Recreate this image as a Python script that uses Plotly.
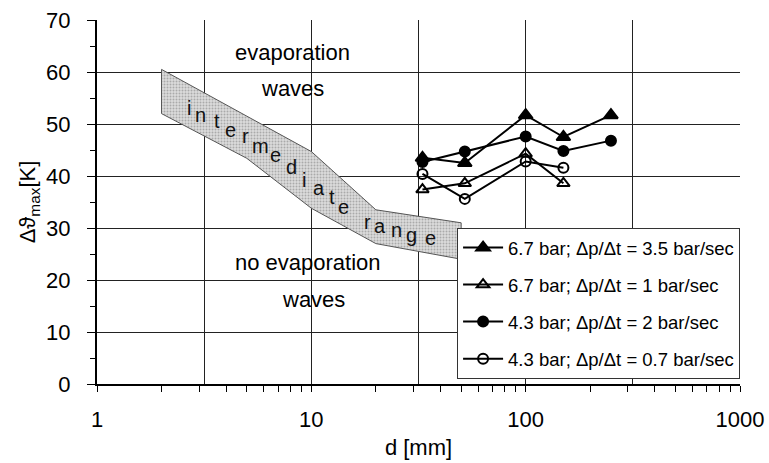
import numpy as np
import plotly.graph_objects as go

# ---------------- data ----------------
d_a = [33, 52, 100, 150, 250]          # pipe diameters [mm], series with 5 points
d_b = [33, 52, 100, 150]               # series with 4 points

y_67_35 = [43.5, 42.5, 51.7, 47.5, 51.7]   # 6.7 bar; 3.5 bar/sec (filled triangle)
y_67_1 = [37.4, 38.6, 44.3, 38.6]          # 6.7 bar; 1 bar/sec (open triangle)
y_43_2 = [42.7, 44.7, 47.6, 44.8, 46.8]    # 4.3 bar; 2 bar/sec (filled circle)
y_43_07 = [40.4, 35.6, 42.8, 41.6]         # 4.3 bar; 0.7 bar/sec (open circle)

names = ["6.7 bar; \u0394p/\u0394t = 3.5 bar/sec",
         "6.7 bar; \u0394p/\u0394t = 1 bar/sec",
         "4.3 bar; \u0394p/\u0394t = 2 bar/sec",
         "4.3 bar; \u0394p/\u0394t = 0.7 bar/sec"]

# intermediate range band (upper and lower boundaries)
band_top_x = [2, 10, 20, 50]
band_top_y = [60.5, 44.7, 33.5, 31.0]
band_bot_x = [2, 5, 10, 20, 50]
band_bot_y = [52.0, 43.4, 33.8, 27.0, 24.0]

band_word = "intermediaterange"
band_letter_x = [2.70, 3.03, 3.63, 4.18, 4.91, 5.77, 6.78, 8.11, 9.29, 10.8, 12.5, 14.1,
                 18.2, 20.9, 25.0, 29.4, 35.8]
band_letter_y = [53.0, 51.7, 50.6, 48.8, 47.6, 45.8, 44.0, 41.8, 39.2, 37.6, 36.0, 34.1,
                 31.2, 30.4, 29.6, 28.7, 28.0]

region_text = ["evaporation", "waves", "no evaporation", "waves"]
region_x = [8.2, 8.2, 9.66, 10.2]
region_y = [63.8, 56.9, 23.4, 16.3]

x_ticks_major = [m * 10 ** k for k in range(3) for m in range(1, 10)] + [1000]
x_ticktext = [str(v) if v in (1, 10, 100, 1000) else "" for v in x_ticks_major]
x_grid = [10 ** 0.5, 10, 10 ** 1.5, 100, 10 ** 2.5]
y_ticks = [0, 10, 20, 30, 40, 50, 60, 70]

FONT = "Liberation Sans, Arial, sans-serif"

fig = go.Figure()

# band
bx = band_top_x + band_bot_x[::-1] + [band_top_x[0]]
by = band_top_y + band_bot_y[::-1] + [band_top_y[0]]
fig.add_trace(go.Scatter(
    x=bx, y=by, mode="lines", fill="toself",
    fillcolor="#d6d6d6",
    fillpattern=dict(shape=".", bgcolor="#dcdcdc", fgcolor="#777777", size=3, solidity=0.35),
    line=dict(color="#555555", width=1), showlegend=False, hoverinfo="skip"))

styles = [
    (d_a, y_67_35, "triangle-up", 12, "black"),
    (d_b, y_67_1, "triangle-up-open", 11, "black"),
    (d_a, y_43_2, "circle", 10, "black"),
    (d_b, y_43_07, "circle-open", 10, "black"),
]
for i, (xs, ys, sym, sz, col) in enumerate(styles):
    fig.add_trace(go.Scatter(
        x=xs, y=ys, mode="lines+markers", name=names[i], legendgroup=f"g{i}",
        line=dict(color="black", width=2),
        marker=dict(symbol=sym, size=sz, color=col, line=dict(color="black", width=2))))

annotations = []
for ch, lx, ly in zip(band_word, band_letter_x, band_letter_y):
    annotations.append(dict(x=np.log10(lx), y=ly, xref="x", yref="y", text=ch,
                            showarrow=False, font=dict(family=FONT, size=20, color="#111")))
for t, rx, ry in zip(region_text, region_x, region_y):
    annotations.append(dict(x=np.log10(rx), y=ry, xref="x", yref="y", text=t,
                            showarrow=False, font=dict(family=FONT, size=22, color="black")))

fig.update_layout(
    width=769, height=463,
    margin=dict(l=97, r=29, t=20, b=79),
    paper_bgcolor="white", plot_bgcolor="white",
    font=dict(family=FONT, color="black", size=20),
    showlegend=True,
    legend=dict(x=0.56, y=0.4286, xanchor="left", yanchor="top",
                bgcolor="white", bordercolor="#333", borderwidth=1,
                font=dict(family=FONT, size=18.5, color="black"),
                tracegroupgap=10, itemwidth=40),
    annotations=annotations,
)

fig.update_xaxes(
    type="log", range=[0, 3], automargin=False,
    tickmode="array", tickvals=x_ticks_major, ticktext=x_ticktext,
    ticks="outside", ticklen=6, tickcolor="black", tickwidth=1,
    showgrid=False, zeroline=False,
    showline=True, linecolor="black", linewidth=2,
    tickfont=dict(family=FONT, size=22), ticklabelstandoff=9,
    minor=dict(tickmode="array", tickvals=x_grid, showgrid=True, gridcolor="#222",
               gridwidth=1, ticks=""),
    title=dict(text="d [mm]", font=dict(family=FONT, size=22), standoff=8),
)
fig.update_yaxes(
    range=[0, 70], tickmode="array", tickvals=y_ticks, automargin=False,
    ticks="outside", ticklen=8, tickcolor="black", tickwidth=1,
    showgrid=True, gridcolor="#222", gridwidth=1, zeroline=False,
    showline=True, linecolor="black", linewidth=2,
    tickfont=dict(family=FONT, size=22), ticklabelstandoff=12,
    minor=dict(dtick=5, ticks="outside", ticklen=5, tickcolor="black", showgrid=False),
    title=dict(text="\u0394\u03d1<sub>max</sub>[K]", font=dict(family=FONT, size=22), standoff=4),
)

fig.write_html("out.html")
